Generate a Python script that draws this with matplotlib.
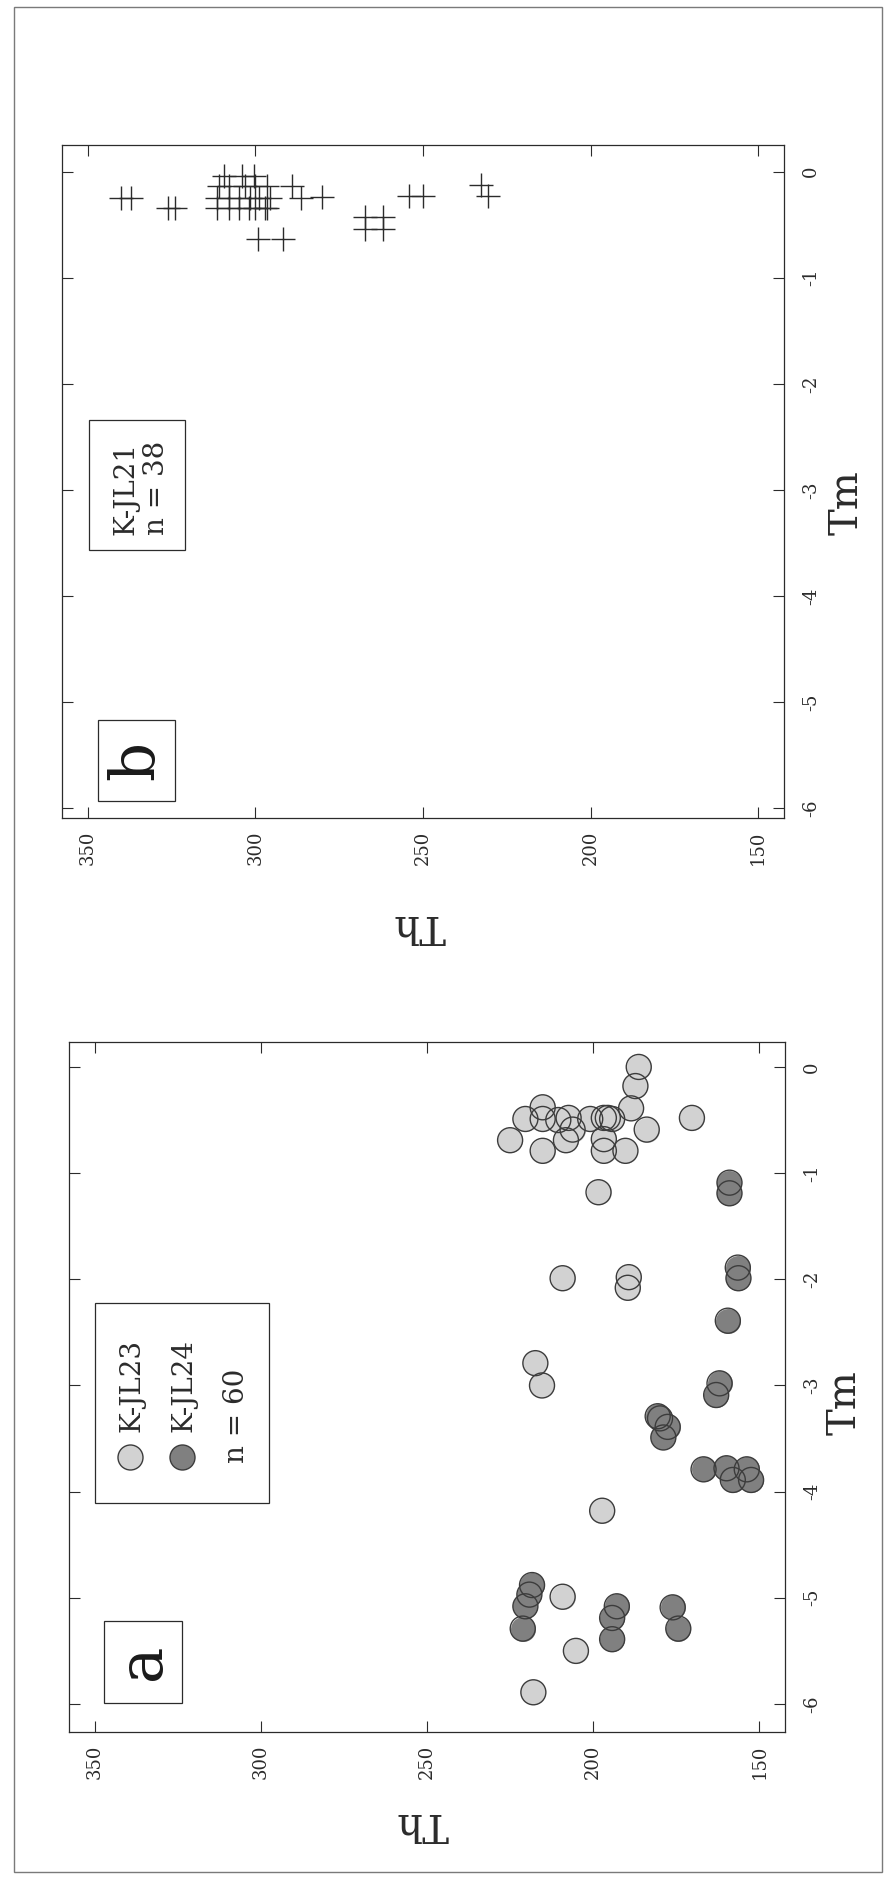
import matplotlib
matplotlib.use('Agg')
import matplotlib.pyplot as plt
from matplotlib.patches import Rectangle

plt.rcParams['font.family'] = ['DejaVu Serif']
plt.rcParams['axes.unicode_minus'] = False

W, H = 890, 1878

# panel a: K-JL23 (light) and K-JL24 (dark), Th vs Tm
jl23_th = [186.3, 187.3, 188.6, 220.4, 215.2, 215.2, 207.4, 210.5, 200.9, 196.8,
           195.6, 194.3, 206.2, 208.2, 225.0, 215.2, 196.8, 196.8, 190.3, 183.9,
           170.3, 198.4, 209.2, 189.3, 189.6, 217.4, 215.4, 197.3, 209.2, 205.2, 218.0]
jl23_tm = [0.0, -0.18, -0.39, -0.49, -0.38, -0.49, -0.48, -0.50, -0.49, -0.48,
           -0.48, -0.49, -0.59, -0.69, -0.69, -0.79, -0.68, -0.79, -0.79, -0.59,
           -0.48, -1.18, -1.99, -1.98, -2.08, -2.79, -3.0, -4.18, -4.99, -5.50, -5.89]

jl24_th = [159.0, 159.0, 156.5, 156.3, 159.5, 162.0, 163.0, 180.6, 179.9, 177.6,
           178.9, 166.8, 159.9, 153.8, 158.0, 152.5, 218.4, 219.2, 220.4, 221.2,
           192.9, 194.3, 194.3, 176.1, 174.4]
jl24_tm = [-1.09, -1.19, -1.89, -1.99, -2.39, -2.98, -3.09, -3.29, -3.31, -3.39,
           -3.49, -3.79, -3.78, -3.79, -3.89, -3.89, -4.88, -4.97, -5.08, -5.29,
           -5.08, -5.19, -5.39, -5.09, -5.29]

# panel b: K-JL21
jl21_th = [340.1, 337.2, 326.0, 324.0, 299.3, 291.9, 267.2, 262.0, 267.2, 262.0,
           254.1, 250.1, 232.7, 230.5, 289.2, 286.4, 280.0,
           309.3, 304.0, 300.5,
           311.0, 308.0, 303.0, 300.0, 296.4,
           311.5, 308.0, 304.8, 301.5, 299.0, 295.5,
           311.5, 308.0, 304.8, 302.0, 300.0, 297.0, 296.4]
jl21_tm = [-0.25, -0.25, -0.34, -0.34, -0.64, -0.64, -0.43, -0.43, -0.54, -0.54,
           -0.23, -0.23, -0.13, -0.23, -0.14, -0.25, -0.24,
           -0.04, -0.04, -0.04,
           -0.14, -0.14, -0.14, -0.14, -0.14,
           -0.25, -0.25, -0.25, -0.25, -0.25, -0.25,
           -0.34, -0.34, -0.34, -0.34, -0.34, -0.34, -0.34]

th_ticks = [350, 300, 250, 200, 150]
tm_ticks = [0, -1, -2, -3, -4, -5, -6]

INK = '#2b2b2b'
LIGHT = '#d2d2d2'
DARK = '#808080'
EDGE = '#3c3c3c'


def px_rect(x0, y0, x1, y1):
    return [x0 / W, 1 - y1 / H, (x1 - x0) / W, (y1 - y0) / H]


def fxy(x, y):
    return x / W, 1 - y / H


def setup_axes(ax, ylim):
    ax.set_xlim(357.7, 142.3)
    ax.set_ylim(*ylim)
    ax.set_xticks(th_ticks)
    ax.set_yticks(tm_ticks)
    ax.set_yticklabels([str(t) for t in tm_ticks])
    for s in ax.spines.values():
        s.set_color(INK)
        s.set_linewidth(0.9)
    ax.tick_params(direction='in', length=8, width=0.8, color=INK,
                   top=True, bottom=True, left=True, right=True,
                   labelleft=False, labelright=True, labelsize=13, labelcolor=INK)
    ax.tick_params(axis='x', labelrotation=90, pad=9)
    ax.tick_params(axis='y', labelrotation=90, pad=13)
    for lab in ax.get_yticklabels():
        lab.set_va('center')
    ax.set_xlabel('Th', rotation=180, fontsize=29, color=INK, ha='center', va='center')
    ax.yaxis.set_label_position('right')
    ax.set_ylabel('Tm', rotation=90, fontsize=29, color=INK, ha='center', va='center')


fig = plt.figure(figsize=(W / 100, H / 100), dpi=100)

# outer frame
fig.patches.append(Rectangle(fxy(14, 1872), (882 - 14) / W, (1872 - 7) / H,
                             transform=fig.transFigure, fill=False, ec='#7a7a7a', lw=1.0))

# ---- panel b ----
ax_b = fig.add_axes(px_rect(62, 145, 784, 818))
setup_axes(ax_b, (-6.09, 0.25))
ax_b.scatter(jl21_th, jl21_tm, marker='+', s=300, c=INK, linewidths=1.0)
ax_b.xaxis.set_label_coords(0.495, -0.16)
ax_b.yaxis.set_label_coords(1.087, 0.468)

# ---- panel a ----
ax_a = fig.add_axes(px_rect(69, 1042, 785, 1732))
setup_axes(ax_a, (-6.264, 0.235))
# fills first, then all outlines on top
ax_a.scatter(jl23_th, jl23_tm, s=324, c=LIGHT, linewidths=0, zorder=2)
ax_a.scatter(jl24_th, jl24_tm, s=324, c=DARK, linewidths=0, zorder=2)
ax_a.scatter(jl23_th + jl24_th, jl23_tm + jl24_tm, s=324, facecolors='none',
             edgecolors=EDGE, linewidths=1.0, zorder=3)
ax_a.xaxis.set_label_coords(0.494, -0.132)
ax_a.yaxis.set_label_coords(1.084, 0.477)

# ---- panel letters ----
for (x0, y0, x1, y1), letter in [((98, 720, 175, 801), 'b'), ((104, 1621, 182, 1703), 'a')]:
    fig.patches.append(Rectangle(fxy(x0, y1), (x1 - x0) / W, (y1 - y0) / H,
                                 transform=fig.transFigure, fill=False, ec=INK, lw=0.9))
    fig.text(*fxy((x0 + x1) / 2, (y0 + y1) / 2), letter, rotation=90, fontsize=44,
             color='#1a1a1a', ha='center', va='center')

# ---- legend panel b ----
fig.patches.append(Rectangle(fxy(89, 550), (185 - 89) / W, (550 - 420) / H,
                             transform=fig.transFigure, fill=False, ec=INK, lw=0.9))
fig.text(*fxy(126, 535), 'K-JL21', rotation=90, fontsize=20, color=INK, ha='center', va='bottom')
fig.text(*fxy(156, 535), 'n = 38', rotation=90, fontsize=20, color=INK, ha='center', va='bottom')

# ---- legend panel a ----
fig.patches.append(Rectangle(fxy(95, 1503), (269 - 95) / W, (1503 - 1303) / H,
                             transform=fig.transFigure, fill=False, ec=INK, lw=0.9))
for x, fc, name in [(130, LIGHT, 'K-JL23'), (182, DARK, 'K-JL24')]:
    fig.add_artist(plt.Line2D([x / W], [1 - 1457 / H], transform=fig.transFigure,
                              marker='o', ms=18, mfc=fc, mec=EDGE, mew=1.0, ls='none'))
    fig.text(*fxy(x + 2, 1432), name, rotation=90, fontsize=20, color=INK, ha='center', va='bottom')
fig.text(*fxy(236, 1463), 'n = 60', rotation=90, fontsize=20, color=INK, ha='center', va='bottom')

fig.savefig('out.png', dpi=100)
